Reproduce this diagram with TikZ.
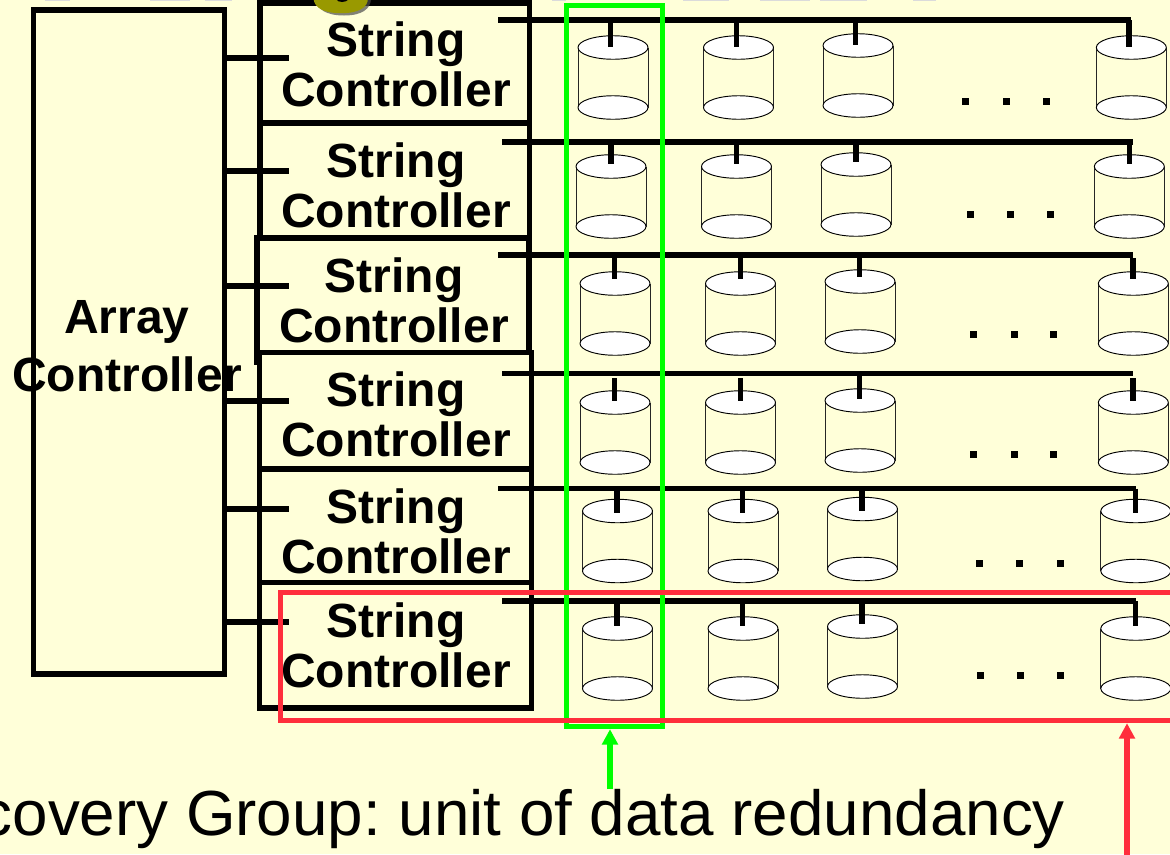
\documentclass[tikz,border=0pt]{standalone}
\usepackage{fontspec}
\setmainfont{Liberation Sans}
\usetikzlibrary{arrows.meta,shapes.geometric}
\definecolor{paper}{HTML}{FFFFD9}
\definecolor{gbox}{HTML}{00FF00}
\definecolor{rbox}{HTML}{FF2E3C}
\definecolor{olive}{HTML}{999900}
\newcommand{\pxw}[1]{#1*0.75pt}
\tikzset{
  x=0.75pt,y=-0.75pt,
  boxline/.style={draw=black,line width=3.9pt,fill=none,inner sep=0pt,outer sep=0pt},
  ctrlbox/.style={boxline,anchor=north west},
  ctrllabel/.style={font=\fontsize{36}{37.5}\bfseries\selectfont,align=center,text=black,inner sep=0pt,anchor=base},
  wire/.style={line width=3.9pt,draw=black},
  disktop/.style={draw=black,fill=white,line width=0.7pt,ellipse,minimum width=\pxw{70},minimum height=\pxw{23.5},inner sep=0pt,outer sep=0pt},
  diskside/.style={draw=black!85,line width=0.65pt},
  ddot/.style={fill=black,minimum size=\pxw{7},inner sep=0pt,outer sep=0pt,rectangle},
  groupbox/.style={line width=4pt,inner sep=0pt,outer sep=0pt,fill=none,rectangle,anchor=north west},
  groupptr/.style={line width=3.9pt,-{Triangle[width=11.5pt,length=11.5pt]}},
  titlebit/.style={fill=black!14},
}
\newcommand{\ctrlrow}[8]{%
% #1 id, #2 left, #3 top, #4 right, #5 bottom, #6 label x, #7 label last baseline, #8 stub y
  \node[ctrlbox,minimum width=\pxw{(#4-#2)},minimum height=\pxw{(#5-#3)}] (box#1) at (#2,#3) {};
  \node[ctrllabel] (lab#1) at (#6,#7) {String\\Controller};
  \coordinate (stub#1) at (288.5,#8);
  \draw[wire] (array.east |- stub#1) -- (stub#1);
}
\newcommand{\diskrow}[9]{%
% #1 id, #2 bus start, #3 bus y, #4 bus end x, #5 centre of disk 1, #6 top centre y, #7 top y of disk 3, #8 stem dx, #9 gap under bus
  \coordinate (bus#1a) at (#2,#3);
  \coordinate (bus#1b) at (#4,#3);
  \draw[wire] (bus#1a) -- (bus#1b);
  \foreach \k/\cx/\ty in {1/#5/#6,2/#5+125.5/#6,3/#5+245/#7,4/#5+518.3/#6}{
    \pgfmathsetmacro{\xc}{\cx}
    \pgfmathsetmacro{\yt}{\ty}
    \draw[diskside] (\xc-35,\yt) -- (\xc-35,\yt+60);
    \draw[diskside] (\xc+35,\yt) -- (\xc+35,\yt+60);
    \node[disktop] (d#1\k b) at (\xc,\yt+60) {};
    \node[disktop] (d#1\k t) at (\xc,\yt) {};
    \ifnum\k=3 \def\stemgap{0}\else \def\stemgap{#9}\fi
    \coordinate (tap#1\k) at (\xc+#8,#3+\stemgap);
    \draw[wire] (tap#1\k) -- (\xc+#8,\yt+\stemend);
  }
}
\begin{document}
\begin{tikzpicture}
\useasboundingbox (0,0) rectangle (1170,854);
\fill[paper] (0,0) rectangle (1170,854);
\begin{scope}
\clip (0,0) rectangle (1170,854);
% array
\node[boxline,anchor=north west,minimum width=\pxw{191},minimum height=\pxw{664}] (array) at (33.5,10) {};
% string controllers
\ctrlrow{1}{260}{3}{529.5}{123}{396}{106}{58}
\ctrlrow{2}{260}{123}{529.5}{238}{396}{227}{171}
\ctrlrow{3}{257}{238}{529}{352.5}{394}{342}{286}
\draw[boxline] (box3.south west) -- ++(0,12.5);
\ctrlrow{4}{259.5}{352.5}{531.5}{469}{396}{456.5}{401}
\ctrlrow{5}{259.5}{469}{531.5}{582.5}{396}{573.5}{509}
\ctrlrow{6}{259.5}{582.5}{531.5}{708}{396}{687}{622}
\node[ctrllabel] (arraylab) at (127,391) {Array\\[5.5pt]Controller};
% cropped title glyphs
\foreach \xa/\xb in {45/70,150/190,205/232,552/566,683/729,760/810,820/867,913/936}{
  \fill[titlebit] (\xa,-2) rectangle (\xb,0.8);
}
\fill[black!70,opacity=.7] (316,-2) .. controls (316,9) and (326,15.5) .. (344,15.5) .. controls (362,15.5) and (371,9) .. (371,-2) -- cycle;
\fill[olive] (313.5,-2) .. controls (314,8) and (324,13.2) .. (341,13.2) .. controls (358,13.2) and (368,8) .. (368,-2) -- cycle;
\fill[black] (336,-1) .. controls (338,3) and (346,3) .. (349,-1) -- cycle;
% disks
\def\stemend{-0.5}\diskrow{1}{498}{20}{1131}{613}{47.5}{45.5}{-2.4}{0}
\def\stemend{-2.5}\diskrow{2}{502}{142}{1133}{611}{166.5}{164.5}{0}{0}
\def\stemend{-4.5}\diskrow{3}{498}{255}{1132.5}{615}{283.5}{281.5}{-0.3}{3}
\def\stemend{-2}\diskrow{4}{502}{373.5}{1132.5}{615}{402.5}{400.5}{-0.3}{4.5}
\def\stemend{2}\diskrow{5}{498}{488.7}{1136}{617.5}{511}{509}{-0.5}{0}
\def\stemend{-2.5}\diskrow{6}{502}{601}{1136}{617.5}{628.5}{626.5}{-0.5}{0}
% dots
\foreach \r/\a/\b/\c/\y in {1/965/1006/1046/101,2/970/1010/1050/214,3/973/1014/1053/334,4/973/1014/1053/454,5/979/1019/1060/563,6/980/1020/1060/675}{
  \node[ddot] (dotA\r) at (\a,\y) {};
  \node[ddot] (dotB\r) at (\b,\y) {};
  \node[ddot] (dotC\r) at (\c,\y) {};
}
% groups
\node[groupbox,draw=gbox,minimum width=\pxw{96},minimum height=\pxw{721}] (recgroup) at (566.7,5.5) {};
\node[groupbox,draw=rbox,minimum width=\pxw{920},minimum height=\pxw{127.7}] (stringgroup) at (280.5,592.8) {};
\coordinate (gtail) at (610,789);
\coordinate (rtail) at (1127,860);
\draw[groupptr,gbox] (gtail) -- ([yshift=-2pt]gtail |- recgroup.south);
\draw[groupptr,rbox] (rtail) -- ([yshift=-2pt]rtail |- stringgroup.south);
\node[anchor=base west,inner sep=0pt,font=\fontsize{47.8}{50}\selectfont,text=black] (caption) at (-19.5,835) {\frenchspacing covery Group: unit of data redundancy};
\end{scope}
\end{tikzpicture}
\end{document}
